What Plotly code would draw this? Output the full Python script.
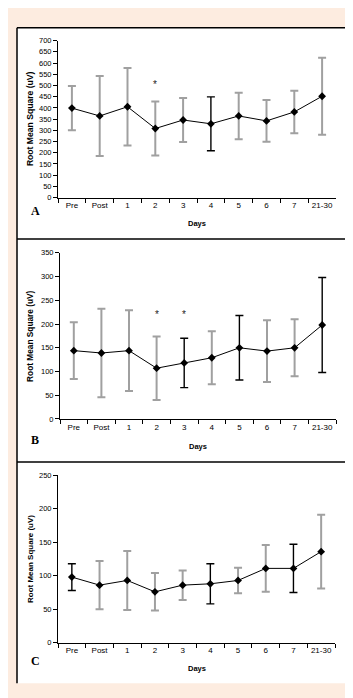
import plotly.graph_objects as go

W, H = 353, 698

days = ["Pre", "Post", "1", "2", "3", "4", "5", "6", "7", "21-30"]

# Panel A
mean_A = [399, 364, 405, 308, 346, 329, 364, 342, 382, 452]
sd_A = [99, 178, 173, 120, 98, 120, 104, 93, 95, 172]
dark_A = ["4"]
star_A = ["2"]

# Panel B
mean_B = [144, 139, 144, 107, 118, 129, 150, 143, 150, 198]
sd_B = [60, 93, 85, 67, 52, 56, 68, 65, 60, 100]
dark_B = ["3", "5", "21-30"]
star_B = ["2", "3"]

# Panel C
mean_C = [98, 86, 93, 76, 86, 88, 93, 111, 111, 136]
sd_C = [20, 36, 44, 28, 22, 30, 19, 35, 36, 55]
dark_C = ["Pre", "4", "7"]
star_C = []

ymax = [700, 350, 250]
letters = ["A", "B", "C"]
y_title = "Root Mean Square (uV)"
x_title = "Days"

# layout geometry in pixels: (x0, x1, ybottom, ytop, xlabel_y, letter_y, star_val, title_size)
geo = [
    (50, 328, 188, 29, 214, 202, 505, 8.6),
    (52, 328, 412.3, 244, 440, 434, 220, 8.3),
    (50, 327, 639, 469.3, 665, 657, 0, 8.0),
]

def px(x):
    return x / W

def py(y):
    return 1 - y / H

BG = "#FDECE0"
GRAY = "#A0A0A0"
FONT = "Arial, Liberation Sans, sans-serif"

fig = go.Figure()
panels = [(mean_A, sd_A, dark_A, star_A), (mean_B, sd_B, dark_B, star_B), (mean_C, sd_C, dark_C, star_C)]

layout = dict(
    width=W, height=H, margin=dict(l=0, r=0, t=0, b=0),
    paper_bgcolor=BG, plot_bgcolor="rgba(0,0,0,0)", showlegend=False, hovermode=False,
)
shapes = []
annotations = []

# white panel area with borders
shapes.append(dict(type="rect", xref="paper", yref="paper", x0=px(9), x1=px(340), y0=py(680), y1=py(16),
                   fillcolor="white", line=dict(width=0), layer="below"))
for (xa_, ya_, xb_, yb_) in [(9, 16, 340, 16), (9, 230, 340, 230), (9, 456, 340, 456), (9, 16, 9, 680), (340, 16, 340, 680)]:
    shapes.append(dict(type="line", xref="paper", yref="paper", x0=px(xa_), x1=px(xb_), y0=py(ya_), y1=py(yb_),
                       line=dict(color="black", width=1.5), layer="below"))

for i, ((mean, sd, dark, stars), g) in enumerate(zip(panels, geo)):
    x0, x1, yb, yt, xl_y, let_y, star_val, tsz = g
    n = "" if i == 0 else str(i + 1)
    xa = "x" + n
    ya = "y" + n
    for is_dark in (False, True):
        xs = [d for d in days if (d in dark) == is_dark]
        ys = [m for d, m in zip(days, mean) if (d in dark) == is_dark]
        es = [s for d, s in zip(days, sd) if (d in dark) == is_dark]
        fig.add_trace(go.Scatter(
            x=xs, y=ys, xaxis=xa, yaxis=ya, mode="markers",
            marker=dict(color="rgba(0,0,0,0)", size=1),
            error_y=dict(type="data", array=es, visible=True,
                         color="black" if is_dark else GRAY,
                         thickness=1.4 if is_dark else 2, width=4),
            hoverinfo="skip",
        ))
    fig.add_trace(go.Scatter(
        x=days, y=mean, xaxis=xa, yaxis=ya, mode="lines+markers",
        line=dict(color="black", width=1),
        marker=dict(symbol="diamond", size=6, color="black"),
    ))
    layout["xaxis" + n] = dict(
        domain=[px(x0), px(x1)], anchor=ya, type="category", categoryorder="array", categoryarray=days,
        range=[-0.5, 9.5], tickson="boundaries", ticks="outside", ticklen=4, tickcolor="black", tickangle=0,
        showline=True, linecolor="black", linewidth=1, showgrid=False, zeroline=False,
        tickfont=dict(family=FONT, size=8, color="black"), fixedrange=True,
    )
    layout["yaxis" + n] = dict(
        domain=[py(yb), py(yt)], anchor=xa, range=[0, ymax[i]], dtick=50, ticks="outside", ticklen=4,
        tickcolor="black", showline=True, linecolor="black", linewidth=1, showgrid=False, zeroline=False,
        tickfont=dict(family=FONT, size=7.5, color="black"), fixedrange=True,
    )
    annotations.append(dict(xref="paper", yref="paper", x=px((x0 + x1) / 2), y=py(xl_y), text="<b>" + x_title + "</b>",
                            showarrow=False, font=dict(family=FONT, size=7.5, color="black"),
                            xanchor="center", yanchor="middle"))
    annotations.append(dict(xref="paper", yref="paper", x=px(22), y=py((yb + yt) / 2), text="<b>" + y_title + "</b>",
                            textangle=-90, showarrow=False, font=dict(family=FONT, size=tsz, color="black"),
                            xanchor="center", yanchor="middle"))
    annotations.append(dict(xref="paper", yref="paper", x=px(27), y=py(let_y), text="<b>" + letters[i] + "</b>",
                            showarrow=False, font=dict(family="Liberation Serif, Times New Roman, serif", size=12, color="black"),
                            xanchor="center", yanchor="middle"))
    for s in stars:
        annotations.append(dict(xref=xa, yref=ya, x=days.index(s), y=star_val, text="*", showarrow=False,
                                font=dict(family=FONT, size=10, color="#222222"), xanchor="center", yanchor="middle"))

layout["shapes"] = shapes
layout["annotations"] = annotations
fig.update_layout(**layout)
fig.write_html("out.html")
